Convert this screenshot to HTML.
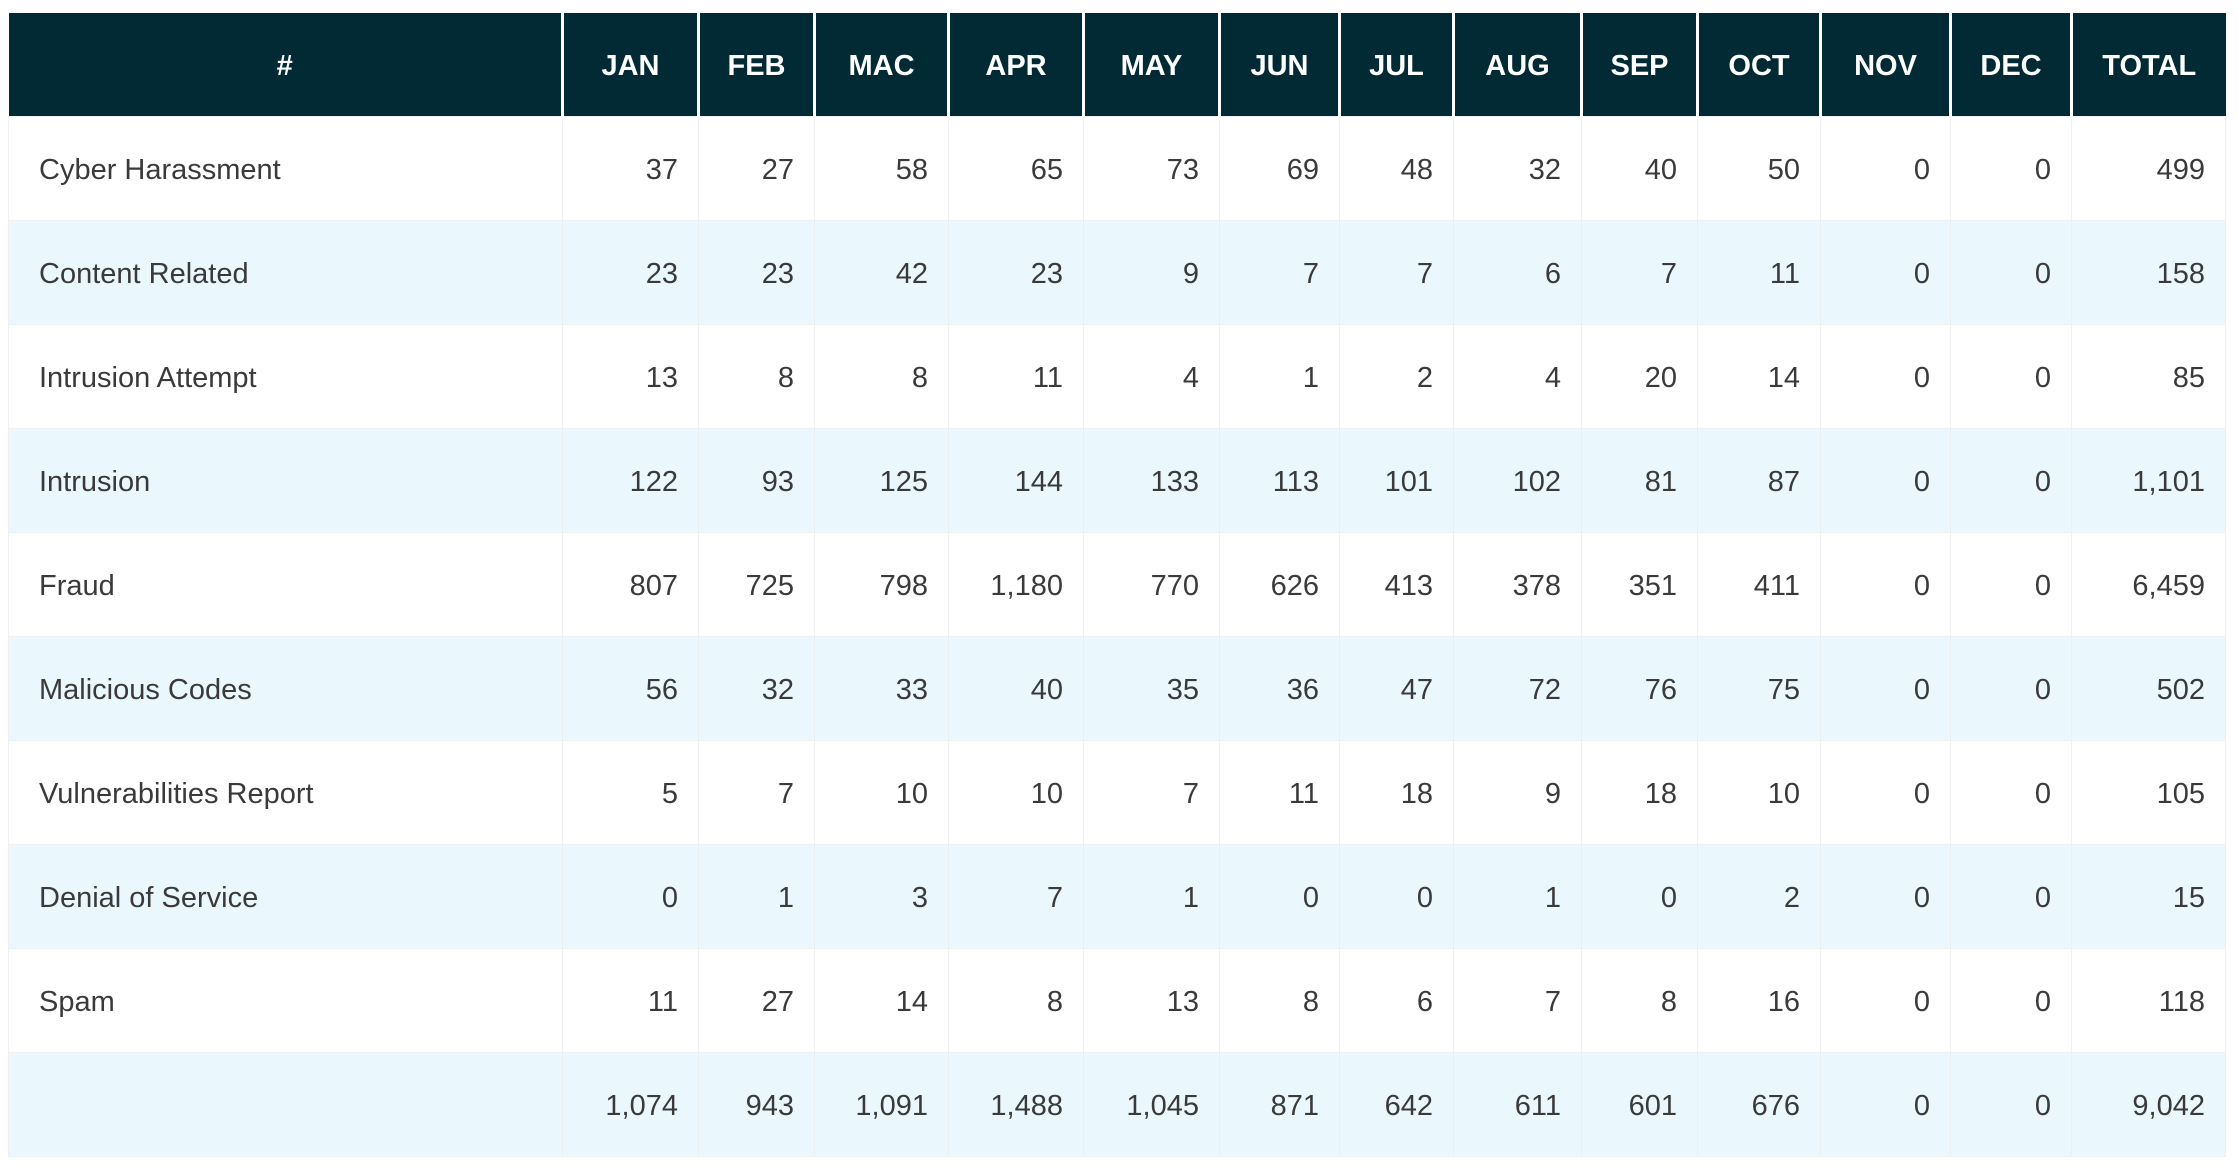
<!DOCTYPE html>
<html><head><meta charset="utf-8"><style>
html,body{margin:0;padding:0;background:#fff;width:2238px;height:1172px;overflow:hidden}
table{position:absolute;left:8px;top:13px;border-collapse:collapse;table-layout:fixed;width:2217px;font-family:"Liberation Sans",sans-serif}
th{background:#022a35;color:#fff;font-weight:bold;font-size:29px;height:103px;border-left:3px solid #fff;padding:4px 0 0 0;box-sizing:border-box;text-align:center;font-family:"Liberation Sans Narrow","Liberation Sans",sans-serif}
th:first-child{border-left:none}
td{height:98px;border:1px solid #efefef;font-size:29px;color:#3a3a3a;text-align:right;padding:5px 20px 0 0;font-weight:normal}
td:first-child{text-align:left;padding:5px 0 0 30px}
tr:nth-child(even) td{background:#eaf8fd}
</style></head><body>
<table>
<colgroup><col style="width:554px"><col style="width:136px"><col style="width:116px"><col style="width:134px"><col style="width:135px"><col style="width:136px"><col style="width:120px"><col style="width:114px"><col style="width:128px"><col style="width:116px"><col style="width:123px"><col style="width:130px"><col style="width:121px"><col style="width:154px"></colgroup>
<thead><tr><th>#</th><th>JAN</th><th>FEB</th><th>MAC</th><th>APR</th><th>MAY</th><th>JUN</th><th>JUL</th><th>AUG</th><th>SEP</th><th>OCT</th><th>NOV</th><th>DEC</th><th>TOTAL</th></tr></thead>
<tbody>
<tr><td>Cyber Harassment</td><td>37</td><td>27</td><td>58</td><td>65</td><td>73</td><td>69</td><td>48</td><td>32</td><td>40</td><td>50</td><td>0</td><td>0</td><td>499</td></tr>
<tr><td>Content Related</td><td>23</td><td>23</td><td>42</td><td>23</td><td>9</td><td>7</td><td>7</td><td>6</td><td>7</td><td>11</td><td>0</td><td>0</td><td>158</td></tr>
<tr><td>Intrusion Attempt</td><td>13</td><td>8</td><td>8</td><td>11</td><td>4</td><td>1</td><td>2</td><td>4</td><td>20</td><td>14</td><td>0</td><td>0</td><td>85</td></tr>
<tr><td>Intrusion</td><td>122</td><td>93</td><td>125</td><td>144</td><td>133</td><td>113</td><td>101</td><td>102</td><td>81</td><td>87</td><td>0</td><td>0</td><td>1,101</td></tr>
<tr><td>Fraud</td><td>807</td><td>725</td><td>798</td><td>1,180</td><td>770</td><td>626</td><td>413</td><td>378</td><td>351</td><td>411</td><td>0</td><td>0</td><td>6,459</td></tr>
<tr><td>Malicious Codes</td><td>56</td><td>32</td><td>33</td><td>40</td><td>35</td><td>36</td><td>47</td><td>72</td><td>76</td><td>75</td><td>0</td><td>0</td><td>502</td></tr>
<tr><td>Vulnerabilities Report</td><td>5</td><td>7</td><td>10</td><td>10</td><td>7</td><td>11</td><td>18</td><td>9</td><td>18</td><td>10</td><td>0</td><td>0</td><td>105</td></tr>
<tr><td>Denial of Service</td><td>0</td><td>1</td><td>3</td><td>7</td><td>1</td><td>0</td><td>0</td><td>1</td><td>0</td><td>2</td><td>0</td><td>0</td><td>15</td></tr>
<tr><td>Spam</td><td>11</td><td>27</td><td>14</td><td>8</td><td>13</td><td>8</td><td>6</td><td>7</td><td>8</td><td>16</td><td>0</td><td>0</td><td>118</td></tr>
<tr><td></td><td>1,074</td><td>943</td><td>1,091</td><td>1,488</td><td>1,045</td><td>871</td><td>642</td><td>611</td><td>601</td><td>676</td><td>0</td><td>0</td><td>9,042</td></tr>
</tbody></table>
</body></html>
